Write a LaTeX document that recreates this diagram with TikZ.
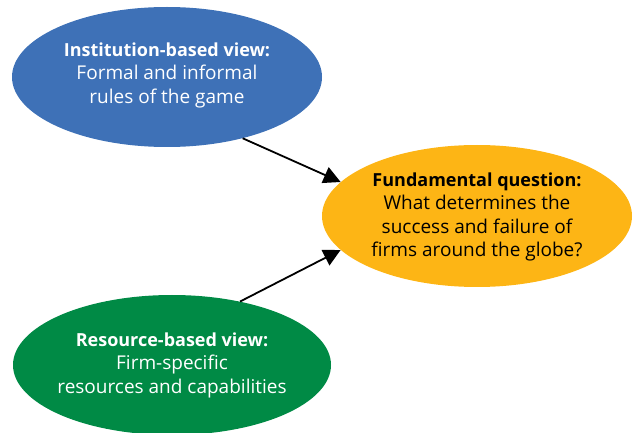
\documentclass[tikz,border=0pt]{standalone}
\usepackage{fontspec}
\setmainfont{Open Sans}
\usetikzlibrary{shapes.geometric,arrows.meta}
\definecolor{instblue}{HTML}{3E71B7}
\definecolor{fundorange}{HTML}{FDB515}
\definecolor{resgreen}{HTML}{008A45}
\newcommand{\headline}[1]{{\fontsize{18}{23.5}\selectfont\bfseries #1}}
\begin{document}
\begin{tikzpicture}[x=1pt,y=-1pt,
  oval/.style={ellipse, inner sep=0pt, draw=none, minimum width=310pt, minimum height=140pt},
  txt/.style={align=center, font=\fontsize{19}{23.5}\selectfont, inner sep=0pt},
  arr/.style={line width=1.8pt, -{Triangle[length=17pt,width=17pt]}, shorten >=0pt}]
\useasboundingbox (0,0) rectangle (633,433);
\clip (0,0) rectangle (633,433);
\node[oval, fill=instblue] (inst) at (167,77) {};
\node[oval, fill=fundorange, minimum height=142pt] (fund) at (477,216) {};
\node[oval, fill=resgreen, minimum width=318pt] (res) at (172,365) {};
\node[txt, text=white] (insttext) at (167,75) {\headline{Institution-based view:}\\Formal and informal\\rules of the game};
\node[txt, text=black] (fundtext) at (477,217) {\headline{Fundamental question:}\\What determines the\\success and failure of\\firms around the globe?};
\node[txt, text=white] (restext) at (172,365) {\headline{Resource-based view:}\\Firm-specific\\resources and capabilities};
\draw[arr] (inst.-39.7) -- (fund.166.3);
\draw[arr] (res.43.8) -- (fund.194.2);
\end{tikzpicture}
\end{document}
